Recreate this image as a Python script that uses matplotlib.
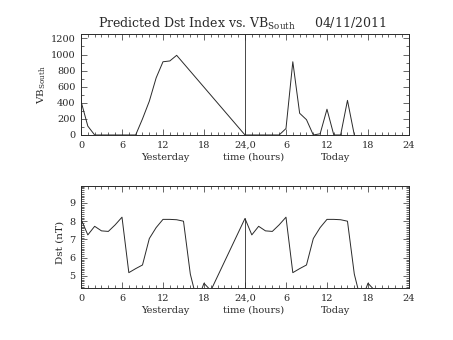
import matplotlib
matplotlib.use('Agg')
import matplotlib.pyplot as plt
from matplotlib.ticker import MultipleLocator

plt.rcParams['font.family'] = 'DejaVu Serif'
plt.rcParams['mathtext.fontset'] = 'dejavuserif'

# VB South, hours since start of yesterday (gap 14-24 drawn straight)
vb_hours = [0, 1, 2, 3, 4, 5, 6, 7, 8, 9, 10, 11, 12, 13, 14,
            24, 25, 26, 27, 28, 29, 30, 31, 32, 33, 34, 35, 36, 37, 38, 39, 40]
vb_vals = [420, 110, 0, 0, 0, 0, 0, 0, 0, 200, 420, 710, 910, 920, 990,
           0, 0, 0, 0, 0, 0, 80, 910, 270, 190, 0, 15, 320, 0, 0, 430, 0]

# Dst, yesterday then today
dst_hours_yday = [0, 1, 2, 3, 4, 5, 6, 7, 8, 9, 10, 11, 12, 13, 14, 15, 16, 17, 18, 19]
dst_vals_yday = [8.12, 7.25, 7.72, 7.47, 7.44, 7.8, 8.22, 5.18, 5.4, 5.6, 7.05, 7.65,
                 8.1, 8.1, 8.08, 8.0, 5.1, 3.6, 4.6, 4.2]
dst_hours_today = [24, 25, 26, 27, 28, 29, 30, 31, 32, 33, 34, 35, 36, 37, 38, 39, 40, 41, 42, 43]
dst_vals_today = [8.15, 7.25, 7.72, 7.47, 7.44, 7.8, 8.22, 5.18, 5.4, 5.6, 7.05, 7.65,
                  8.1, 8.1, 8.08, 8.0, 5.1, 3.6, 4.6, 4.2]

xticks = [0, 6, 12, 18, 24, 30, 36, 42, 48]
xticklabels = ['0', '6', '12', '18', '24,0', '6', '12', '18', '24']
vb_yticks = [0, 200, 400, 600, 800, 1000, 1200]
dst_yticks = [5, 6, 7, 8, 9]

fg = '#2a2a2a'
fig = plt.figure(figsize=(4.53, 3.40), dpi=100)
ax1 = fig.add_axes([0.1788, 0.603, 0.724, 0.297])
ax2 = fig.add_axes([0.1788, 0.153, 0.724, 0.300])


def style(ax, ymin, ymax, yminor):
    ax.set_xlim(0, 48)
    ax.set_ylim(ymin, ymax)
    ax.set_xticks(xticks)
    ax.set_xticklabels(xticklabels)
    ax.xaxis.set_minor_locator(MultipleLocator(1))
    ax.yaxis.set_minor_locator(MultipleLocator(yminor))
    ax.tick_params(which='both', direction='in', top=True, right=True,
                   labelsize=7, colors=fg, width=0.5, pad=4)
    ax.tick_params(which='major', length=4)
    ax.tick_params(which='minor', length=2)
    for s in ax.spines.values():
        s.set_color(fg)
        s.set_linewidth(0.7)
    trans = ax.get_xaxis_transform()
    ax.text(12.4, -0.22, 'Yesterday', transform=trans, ha='center', va='center',
            fontsize=7, color=fg)
    ax.text(25.2, -0.22, 'time (hours)', transform=trans, ha='center', va='center',
            fontsize=7, color=fg)
    ax.text(37.2, -0.22, 'Today', transform=trans, ha='center', va='center',
            fontsize=7, color=fg)


# top panel
ax1.plot(vb_hours, vb_vals, color=fg, lw=0.7)
ax1.axvline(24, color=fg, lw=0.6)
style(ax1, 0, 1255, 100)
ax1.set_yticks(vb_yticks)
ax1.set_ylabel(r'VB$_{\mathrm{South}}$', fontsize=7.5, color=fg)
ax1.yaxis.set_label_coords(-0.1, 0.5)

# bottom panel
ax2.plot(dst_hours_yday + dst_hours_today, dst_vals_yday + dst_vals_today,
         color=fg, lw=0.7)
ax2.vlines(24, 4.0, dst_vals_today[0], color=fg, lw=0.6)
style(ax2, 4.34, 9.93, 0.1)
ax2.set_yticks(dst_yticks)
ax2.set_ylabel('Dst (nT)', fontsize=7.5, color=fg)
ax2.yaxis.set_label_coords(-0.05, 0.45)

fig.text(0.535, 0.93, r'Predicted Dst Index vs. VB$_{\mathrm{South}}$     04/11/2011',
         ha='center', va='center', fontsize=9, color=fg)

fig.savefig('out.png', dpi=100)
